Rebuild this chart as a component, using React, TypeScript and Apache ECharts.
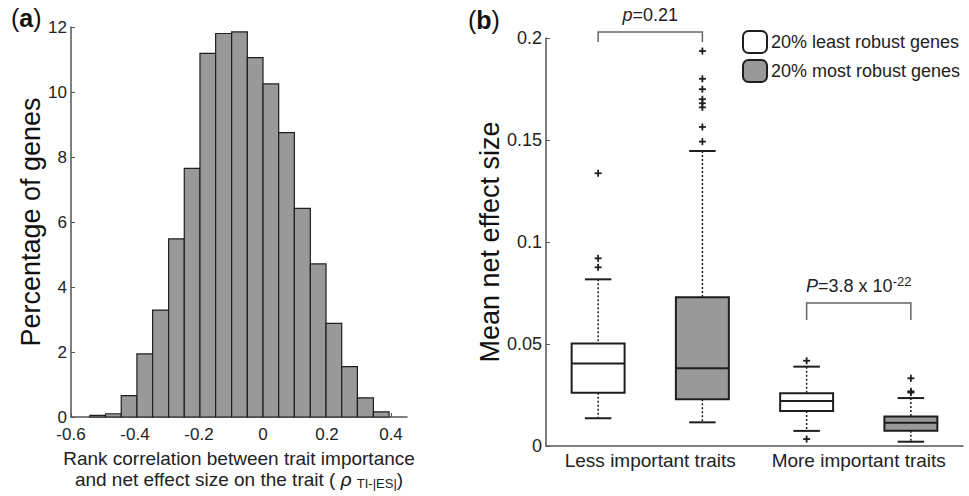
import React, { useEffect, useRef } from 'react';
import * as echarts from 'echarts';

// ---- Panel (a): histogram ----
const binEdges = [-0.541, -0.492, -0.443, -0.394, -0.345, -0.295, -0.246, -0.197, -0.148, -0.098, -0.049, 0, 0.049, 0.098, 0.148, 0.197, 0.246, 0.295, 0.345, 0.394];
const binPercent = [0.05, 0.1, 0.66, 1.94, 3.29, 5.48, 7.65, 11.19, 11.8, 11.85, 11.06, 10.25, 8.75, 6.42, 4.71, 2.88, 1.55, 0.59, 0.16];
const histXTicks = [-0.6, -0.4, -0.2, 0, 0.2, 0.4];

// ---- Panel (b): box plots ----
const traitGroups = ['Less important traits', 'More important traits'];
const seriesNames = ['20% least robust genes', '20% most robust genes'];
// [lower whisker, Q1, median, Q3, upper whisker]
const leastRobustBoxes = [
  [0.0136, 0.0261, 0.0405, 0.0503, 0.0817],
  [0.0074, 0.0172, 0.0221, 0.0258, 0.0389],
];
const mostRobustBoxes = [
  [0.0116, 0.0229, 0.0381, 0.0729, 0.1446],
  [0.0021, 0.0075, 0.0114, 0.0144, 0.0235],
];
const leastRobustOutliers = [
  [0.0876, 0.092, 0.1337],
  [0.0034, 0.0418],
];
const mostRobustOutliers = [
  [0.1492, 0.1564, 0.166, 0.168, 0.17, 0.1749, 0.18, 0.1936],
  [0.0262, 0.0268, 0.0332],
];
const pValueLabels = ['{i|p}=0.21', '{i|P}=3.8 x 10{sup|-22}'];
// [bracket top, bracket leg bottom]
const bracketLevels = [
  [0.203, 0.198],
  [0.0701, 0.0618],
];

const FONT = '"Liberation Sans", Arial, Helvetica, sans-serif';
const DARK = '#1e1e1e';
const GRAY_FILL = '#999999';

function boxRender(side: number, fill: string) {
  return (params: any, api: any) => {
    const cat = api.value(0);
    const bw = api.size([1, 0])[0];
    const cx = api.coord([cat, 0])[0] + side * 0.25 * bw;
    const half = bw * 0.127;
    const cap = half / 2;
    const y = (v: number) => api.coord([cat, v])[1];
    const lo = y(api.value(1));
    const q1 = y(api.value(2));
    const md = y(api.value(3));
    const q3 = y(api.value(4));
    const hi = y(api.value(5));
    const dash = { stroke: DARK, lineWidth: 1.5, lineDash: [2, 2] };
    const solid = { stroke: DARK, lineWidth: 2 };
    return {
      type: 'group',
      children: [
        { type: 'line', shape: { x1: cx, y1: hi, x2: cx, y2: q3 }, style: dash },
        { type: 'line', shape: { x1: cx, y1: q1, x2: cx, y2: lo }, style: dash },
        { type: 'line', shape: { x1: cx - cap, y1: hi, x2: cx + cap, y2: hi }, style: solid },
        { type: 'line', shape: { x1: cx - cap, y1: lo, x2: cx + cap, y2: lo }, style: solid },
        { type: 'rect', shape: { x: cx - half, y: q3, width: 2 * half, height: q1 - q3 }, style: { fill, stroke: DARK, lineWidth: 2 } },
        { type: 'line', shape: { x1: cx - half, y1: md, x2: cx + half, y2: md }, style: solid },
      ],
    };
  };
}

function outlierRender(side: number) {
  return (params: any, api: any) => {
    const cat = api.value(0);
    const bw = api.size([1, 0])[0];
    const p = api.coord([cat, api.value(1)]);
    const cx = p[0] + side * 0.25 * bw;
    const cy = p[1];
    const a = 3.5;
    const st = { stroke: DARK, lineWidth: 1.8 };
    return {
      type: 'group',
      children: [
        { type: 'line', shape: { x1: cx - a, y1: cy, x2: cx + a, y2: cy }, style: st },
        { type: 'line', shape: { x1: cx, y1: cy - a, x2: cx, y2: cy + a }, style: st },
      ],
    };
  };
}

function bracketRender(params: any, api: any) {
  const cat = api.value(0);
  const bw = api.size([1, 0])[0];
  const c = api.coord([cat, api.value(1)]);
  const yb = api.coord([cat, api.value(2)])[1];
  const x1 = c[0] - 0.25 * bw;
  const x2 = c[0] + 0.25 * bw;
  const yt = c[1];
  return {
    type: 'group',
    children: [
      {
        type: 'polyline',
        shape: { points: [[x1, yb], [x1, yt], [x2, yt], [x2, yb]] },
        style: { stroke: '#666', lineWidth: 1.5, fill: 'none' },
      },
      {
        type: 'text',
        style: {
          text: pValueLabels[params.dataIndex],
          x: c[0],
          y: yt - 6,
          align: 'center',
          verticalAlign: 'bottom',
          fontSize: 18,
          fontFamily: FONT,
          fill: '#222',
          lineHeight: 22,
          rich: {
            i: { fontStyle: 'italic', fontSize: 18, fontFamily: FONT, fill: '#222', lineHeight: 22 },
            sup: { fontSize: 13, fontFamily: FONT, fill: '#222', lineHeight: 13, verticalAlign: 'top' },
          },
        },
      },
    ],
  };
}

export default function App() {
  const ref = useRef<HTMLDivElement>(null);
  useEffect(() => {
    if (!ref.current) return;
    const chart = echarts.init(ref.current, undefined, { renderer: 'svg' });
    const histData = binPercent.map((v, i) => [binEdges[i], binEdges[i + 1], v]);
    const axisLineStyle = { color: '#555', width: 1.5 };
    const option: any = {
      animation: false,
      backgroundColor: '#fff',
      textStyle: { fontFamily: FONT },
      grid: [
        { left: 71, top: 27, width: 336, height: 390 },
        { left: 546, top: 38, width: 417, height: 408 },
      ],
      legend: {
        left: 742,
        top: 30,
        padding: 0,
        orient: 'vertical',
        itemWidth: 24,
        itemHeight: 22,
        itemGap: 5,
        selectedMode: false,
        textStyle: { fontSize: 18, color: '#222', fontFamily: FONT, padding: [0, 0, 0, -1] },
        data: [
          { name: seriesNames[0], icon: 'roundRect', itemStyle: { color: '#fff', borderColor: DARK, borderWidth: 2 } },
          { name: seriesNames[1], icon: 'roundRect', itemStyle: { color: GRAY_FILL, borderColor: DARK, borderWidth: 2 } },
        ],
      },
      graphic: [
        {
          type: 'text',
          left: 11,
          top: 5,
          style: {
            text: '({b|a})',
            fontSize: 25,
            fontFamily: FONT,
            fill: '#111',
            rich: { b: { fontSize: 25, fontWeight: 'bold', fontFamily: FONT, fill: '#111' } },
          },
        },
        {
          type: 'text',
          left: 468,
          top: 7,
          style: {
            text: '({b|b})',
            fontSize: 25,
            fontFamily: FONT,
            fill: '#111',
            rich: { b: { fontSize: 25, fontWeight: 'bold', fontFamily: FONT, fill: '#111' } },
          },
        },
      ],
      xAxis: [
        {
          type: 'value',
          gridIndex: 0,
          min: -0.6,
          max: 0.45,
          splitLine: { show: false },
          axisLine: { onZero: false, lineStyle: axisLineStyle },
          axisTick: { inside: true, length: 4, lineStyle: { color: '#555' }, customValues: histXTicks },
          axisLabel: {
            customValues: histXTicks,
            fontSize: 17,
            color: '#222',
            margin: 9,
            formatter: (v: number) => (Math.abs(v - 0.45) < 1e-6 ? '' : String(Math.round(v * 10) / 10)),
          },
          name: 'Rank correlation between trait importance\nand net effect size on the trait ( {rho|ρ} {sub|TI-|ES|})',
          nameLocation: 'middle',
          nameGap: 27,
          nameTextStyle: {
            fontSize: 19,
            color: '#222',
            lineHeight: 21,
            fontFamily: FONT,
            rich: {
              rho: { fontSize: 19, fontStyle: 'italic', fontFamily: FONT, color: '#111', lineHeight: 21 },
              sub: { fontSize: 13, color: '#222', fontFamily: FONT, lineHeight: 12, verticalAlign: 'bottom', padding: [6, 0, 0, 0] },
            },
          },
        },
        {
          type: 'category',
          gridIndex: 1,
          data: traitGroups,
          axisLine: { onZero: false, lineStyle: axisLineStyle },
          axisTick: { inside: true, length: 4, alignWithLabel: true, lineStyle: { color: '#555' } },
          axisLabel: { fontSize: 19, color: '#222', margin: 5, interval: 0 },
        },
      ],
      yAxis: [
        {
          type: 'value',
          gridIndex: 0,
          min: 0,
          max: 12,
          interval: 2,
          splitLine: { show: false },
          axisLine: { show: true, onZero: false, lineStyle: axisLineStyle },
          axisTick: { show: true, inside: true, length: 4, lineStyle: { color: '#555' } },
          axisLabel: { fontSize: 17, color: '#222', margin: 4, lineHeight: 15 },
          name: 'Percentage of genes',
          nameLocation: 'middle',
          nameGap: 26,
          nameTextStyle: { fontSize: 27, color: '#111', fontFamily: FONT },
        },
        {
          type: 'value',
          gridIndex: 1,
          min: 0,
          max: 0.2,
          interval: 0.05,
          splitLine: { show: false },
          axisLine: { show: true, onZero: false, lineStyle: axisLineStyle },
          axisTick: { show: true, inside: true, length: 4, lineStyle: { color: '#555' } },
          axisLabel: { fontSize: 18, color: '#222', margin: 4 },
          name: 'Mean net effect size',
          nameLocation: 'middle',
          nameGap: 42,
          nameTextStyle: { fontSize: 27, color: '#111', fontFamily: FONT },
        },
      ],
      series: [
        {
          type: 'custom',
          name: 'histogram',
          xAxisIndex: 0,
          yAxisIndex: 0,
          encode: { x: [0, 1], y: 2 },
          data: histData,
          renderItem: (params: any, api: any) => {
            const p0 = api.coord([api.value(0), api.value(2)]);
            const p1 = api.coord([api.value(1), 0]);
            return {
              type: 'rect',
              shape: { x: p0[0], y: p0[1], width: p1[0] - p0[0], height: p1[1] - p0[1] },
              style: { fill: GRAY_FILL, stroke: DARK, lineWidth: 1.2 },
            };
          },
        },
        {
          type: 'custom',
          name: seriesNames[0],
          xAxisIndex: 1,
          yAxisIndex: 1,
          itemStyle: { color: '#fff' },
          encode: { x: 0, y: [1, 2, 3, 4, 5] },
          data: leastRobustBoxes.map((b, i) => [i, ...b]),
          renderItem: boxRender(-1, '#fff'),
        },
        {
          type: 'custom',
          name: seriesNames[1],
          xAxisIndex: 1,
          yAxisIndex: 1,
          itemStyle: { color: GRAY_FILL },
          encode: { x: 0, y: [1, 2, 3, 4, 5] },
          data: mostRobustBoxes.map((b, i) => [i, ...b]),
          renderItem: boxRender(1, GRAY_FILL),
        },
        {
          type: 'custom',
          name: 'least-outliers',
          xAxisIndex: 1,
          yAxisIndex: 1,
          encode: { x: 0, y: 1 },
          data: leastRobustOutliers.flatMap((arr, i) => arr.map((v) => [i, v])),
          renderItem: outlierRender(-1),
        },
        {
          type: 'custom',
          name: 'most-outliers',
          xAxisIndex: 1,
          yAxisIndex: 1,
          encode: { x: 0, y: 1 },
          data: mostRobustOutliers.flatMap((arr, i) => arr.map((v) => [i, v])),
          renderItem: outlierRender(1),
        },
        {
          type: 'custom',
          name: 'brackets',
          xAxisIndex: 1,
          yAxisIndex: 1,
          clip: false,
          encode: { x: 0, y: [1, 2] },
          data: bracketLevels.map((b, i) => [i, b[0], b[1]]),
          renderItem: bracketRender,
        },
      ],
    };
    chart.setOption(option);
    return () => chart.dispose();
  }, []);
  return <div ref={ref} style={{ position: 'fixed', left: 0, top: 0, width: 969, height: 496 }} />;
}
